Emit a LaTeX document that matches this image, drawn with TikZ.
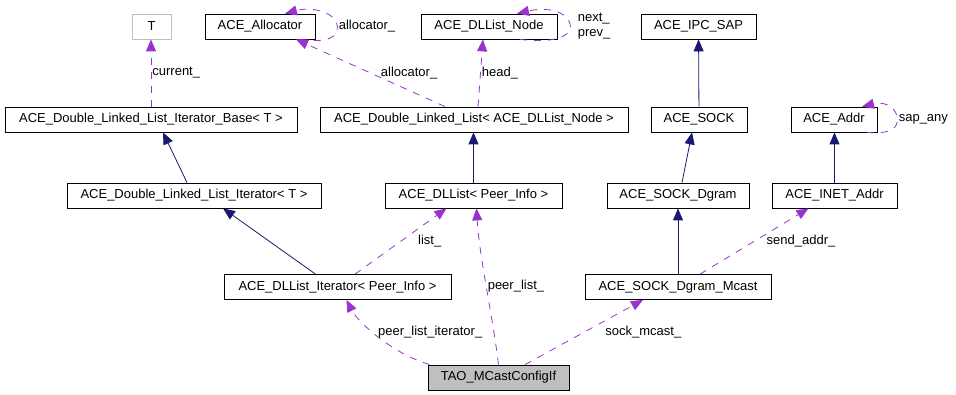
\documentclass[tikz,border=0pt]{standalone}
\usepackage{fontspec}
\setmainfont{Liberation Sans}
\usetikzlibrary{arrows.meta}

\definecolor{inhcol}{RGB}{25,25,112}
\definecolor{usecol}{RGB}{154,50,205}

\begin{document}
\begin{tikzpicture}[
  x=1pt, y=-1pt,
  font=\fontsize{13}{15}\selectfont,
  cls/.style={rectangle, draw, minimum height=25pt, inner sep=0pt, line width=0.8pt},
  tmpl/.style={cls, draw=black!25},
  root/.style={cls, fill=black!25},
  inh/.style={-{Triangle[length=12pt,width=10pt]}, draw=inhcol, line width=0.8pt},
  usg/.style={-{Triangle[length=12pt,width=10pt]}, draw=usecol, line width=0.8pt,
    dash pattern=on 7pt off 7pt},
  lbl/.style={inner sep=1pt, text=black}
]
\useasboundingbox (0,0) rectangle (956,395);

% classes, top row first
\node[tmpl, minimum width=39pt]  (t)        at (151.5,26.5) {T};
\node[cls, minimum width=110pt]  (alloc)    at (260,26.5)   {ACE\_Allocator};
\node[cls, minimum width=136pt]  (dlnode)   at (489,26.5)   {ACE\_DLList\_Node};
\node[cls, minimum width=115pt]  (ipcsap)   at (698.5,26.5) {ACE\_IPC\_SAP};

\node[cls, minimum width=292pt]  (iterbase) at (151,119.5)  {ACE\_Double\_Linked\_List\_Iterator\_Base< T >};
\node[cls, minimum width=308pt]  (dllist)   at (474,119.5)  {ACE\_Double\_Linked\_List< ACE\_DLList\_Node >};
\node[cls, minimum width=96pt]   (sock)     at (699,119.5)  {ACE\_SOCK};
\node[cls, minimum width=86pt]   (addr)     at (834,119.5)  {ACE\_Addr};

\node[cls, minimum width=254pt]  (iter)     at (194,195.5)  {ACE\_Double\_Linked\_List\_Iterator< T >};
\node[cls, minimum width=177pt]  (dlpeer)   at (473.5,195.5) {ACE\_DLList< Peer\_Info >};
\node[cls, minimum width=142pt]  (dgram)    at (678,195.5)  {ACE\_SOCK\_Dgram};
\node[cls, minimum width=125pt]  (inet)     at (834.5,195.5) {ACE\_INET\_Addr};

\node[cls, minimum width=227pt]  (dliter)   at (337.5,287)  {ACE\_DLList\_Iterator< Peer\_Info >};
\node[cls, minimum width=186pt]  (mcast)    at (678,287)    {ACE\_SOCK\_Dgram\_Mcast};

\node[root, minimum width=141pt] (tao)      at (498.5,377.5) {TAO\_MCastConfigIf};

% inheritance
\draw[inh] (sock) -- (ipcsap);
\draw[inh] ([xshift=-7pt]iter.north) -- ([xshift=12pt]iterbase.south);
\draw[inh] (dlpeer.north) -- (dlpeer.north |- dllist.south);
\draw[inh] ([xshift=4pt]dgram.north) -- ([xshift=-7pt]sock.south);
\draw[inh] (inet.north) -- (inet.north |- addr.south);
\draw[inh] ([xshift=-22pt]dliter.north) -- ([xshift=29pt]iter.south);
\draw[inh] (mcast) -- (dgram);

% usage
\draw[usg] (iterbase.north) -- node[lbl, right] {current\_} (iterbase.north |- t.south);
\draw[usg] ([xshift=-29pt]dllist.north) -- node[lbl, right, xshift=9pt] {allocator\_} ([xshift=36pt]alloc.south);
\draw[usg] ([xshift=4pt]dllist.north) -- node[lbl, right] {head\_} ([xshift=-6pt]dlnode.south);
\draw[usg] ([xshift=17.5pt]dliter.north) -- node[lbl, right, xshift=16pt] {list\_} ([xshift=-27pt]dlpeer.south);
\draw[usg] ([xshift=22pt]mcast.north) -- node[lbl, right, xshift=11pt] {send\_addr\_} ([xshift=-26pt]inet.south);
\draw[usg] ([xshift=2pt]tao.north west) .. controls +(-40,-12) and +(10,20) ..
  node[lbl, right, yshift=3pt] {peer\_list\_iterator\_} ([xshift=9pt]dliter.south);
\draw[usg] (tao.north) .. controls +(-6,-50) and +(3,50) ..
  node[lbl, right] {peer\_list\_} ([xshift=3pt]dlpeer.south);
\draw[usg] ([xshift=26.5pt]tao.north) -- node[lbl, right, xshift=20pt] {sock\_mcast\_} ([xshift=-35pt]mcast.south);

% self references
\draw[usg] ([xshift=40pt]alloc.south) .. controls +(30,4) and +(0,10) .. ([xshift=22pt]alloc.east)
  node[lbl, right] {allocator\_} .. controls +(0,-12) and +(30,-8) .. ([xshift=25pt]alloc.north);
\draw[usg] ([xshift=31pt]dlnode.south) .. controls +(35,4) and +(0,10) .. ([xshift=13pt]dlnode.east)
  node[lbl, right, align=left, xshift=6pt] {next\_\\prev\_} .. controls +(0,-12) and +(35,-8) .. ([xshift=28pt]dlnode.north);
\draw[usg] ([xshift=33pt]addr.south) .. controls +(25,2) and +(0,8) .. ([xshift=20pt]addr.east)
  node[lbl, right] {sap\_any} .. controls +(0,-10) and +(25,-6) .. ([xshift=28pt]addr.north);
\end{tikzpicture}
\end{document}
